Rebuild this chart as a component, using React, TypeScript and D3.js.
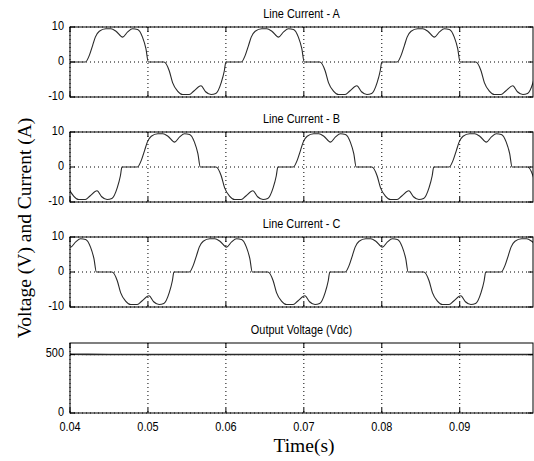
import React, { useEffect, useRef } from 'react'
import * as d3 from 'd3'

// one period (20 ms) of the phase-A line current
const cycleMs = [
  0, 1.97, 2.48, 2.9, 3.25, 3.76, 4.6, 5.26, 5.9, 6.75, 7.4, 8.03, 8.67, 9.3, 9.74, 10.05,
  12.05, 12.73, 13.16, 13.8, 14.45, 15.3, 15.9, 16.8, 17.4, 18.1, 18.7, 19.4, 19.8, 20.0,
]
const cycleAmps = [
  0, 0, 1.9, 4.7, 7.1, 8.8, 9.5, 9.5, 8.8, 7.1, 8.6, 9.5, 9.3, 7.1, 3.8, 0,
  0, -2.5, -5.9, -8.3, -9.3, -9.3, -8.3, -6.8, -8.5, -9.3, -9.0, -5.9, -2.5, 0,
]
const periodMs = 20
// phase lag of each line current (ms)
const phaseShiftMs = [0, 6.667, 13.333]
const panelTitles = ['Line Current - A', 'Line Current - B', 'Line Current - C', 'Output Voltage (Vdc)']

const vdcTime = [0.04, 0.0402, 0.045, 0.05, 0.06, 0.07, 0.08, 0.09, 0.0994]
const vdcVolts = [508, 503, 502, 502, 502, 502, 502, 502, 502]

const timeTicks = [0.04, 0.05, 0.06, 0.07, 0.08, 0.09]
const timeLabels = ['0.04', '0.05', '0.06', '0.07', '0.08', '0.09']
const currentTicks = [-10, 0, 10]
const vdcTicks = [0, 500]

const W = 534
const H = 461
const left = 70
const right = 533
const panelTop = [27, 132, 237, 343]
const panelH = 70
const smallFont = "'Liberation Sans', Arial, sans-serif"
const smallSize = 13
const narrow = 0.84

export default function App() {
  const svgRef = useRef<SVGSVGElement>(null)

  useEffect(() => {
    if (!svgRef.current) return
    const svg = d3.select(svgRef.current)
    svg.selectAll('*').remove()

    const x = d3.scaleLinear().domain([0.04, 0.0994]).range([left, right])

    // narrow sans text, like the MATLAB screen font
    const label = (
      g: d3.Selection<SVGGElement, unknown, null, undefined>,
      tx: number,
      ty: number,
      anchor: string,
      txt: string,
      baseline = 'auto'
    ) =>
      g
        .append('text')
        .attr('transform', `translate(${tx},${ty}) scale(${narrow},1)`)
        .attr('text-anchor', anchor)
        .attr('dominant-baseline', baseline)
        .attr('font-family', smallFont)
        .attr('font-size', smallSize)
        .attr('fill', '#000')
        .text(txt)

    const buildPhase = (shift: number) => {
      const pts: [number, number][] = []
      for (let k = -1; k <= 3; k++) {
        cycleMs.forEach((ms, i) => {
          if (k > -1 && i === 0) return
          const t = 0.04 + (shift + k * periodMs + ms) / 1000
          if (t >= 0.035 && t <= 0.105) pts.push([t, cycleAmps[i]])
        })
      }
      return pts
    }

    panelTitles.forEach((title, p) => {
      const top = panelTop[p]
      const bottom = top + panelH
      const isVdc = p === 3
      const y = d3
        .scaleLinear()
        .domain(isVdc ? [0, 600] : [-10, 10])
        .range([bottom, top])
      const yTicks = isVdc ? vdcTicks : currentTicks

      const g = svg.append('g')

      g.append('clipPath')
        .attr('id', `clip-${p}`)
        .append('rect')
        .attr('x', left)
        .attr('y', top)
        .attr('width', right - left)
        .attr('height', panelH)

      // dotted grid
      timeTicks.forEach((t) => {
        g.append('line')
          .attr('x1', x(t))
          .attr('x2', x(t))
          .attr('y1', top)
          .attr('y2', bottom)
          .attr('stroke', '#000')
          .attr('stroke-width', 1)
          .attr('stroke-dasharray', '1,3')
      })
      yTicks.forEach((v) => {
        g.append('line')
          .attr('x1', left)
          .attr('x2', right)
          .attr('y1', y(v))
          .attr('y2', y(v))
          .attr('stroke', '#000')
          .attr('stroke-width', 1)
          .attr('stroke-dasharray', '1,3')
      })

      // signal
      const line = d3
        .line<[number, number]>()
        .x((d) => x(d[0]))
        .y((d) => y(d[1]))
        .curve(d3.curveMonotoneX)
      const data: [number, number][] = isVdc
        ? vdcTime.map((t, i) => [t, vdcVolts[i]])
        : buildPhase(phaseShiftMs[p])
      g.append('path')
        .attr('d', line(data))
        .attr('fill', 'none')
        .attr('stroke', '#2a2a2a')
        .attr('stroke-width', isVdc ? 1.6 : 1.1)
        .attr('clip-path', `url(#clip-${p})`)

      // box
      g.append('rect')
        .attr('x', left)
        .attr('y', top)
        .attr('width', right - left)
        .attr('height', panelH)
        .attr('fill', 'none')
        .attr('stroke', '#000')
        .attr('stroke-width', 1)

      // inward ticks
      timeTicks.forEach((t) => {
        g.append('line').attr('x1', x(t)).attr('x2', x(t)).attr('y1', bottom).attr('y2', bottom - 5).attr('stroke', '#000')
        g.append('line').attr('x1', x(t)).attr('x2', x(t)).attr('y1', top).attr('y2', top + 5).attr('stroke', '#000')
      })
      yTicks.forEach((v) => {
        g.append('line').attr('x1', left).attr('x2', left + 5).attr('y1', y(v)).attr('y2', y(v)).attr('stroke', '#000')
        g.append('line').attr('x1', right).attr('x2', right - 5).attr('y1', y(v)).attr('y2', y(v)).attr('stroke', '#000')
        label(g, left - 6, y(v) - 1.5, 'end', String(v), 'central')
      })

      label(g, (left + right) / 2, top - 9, 'middle', title)

      if (isVdc) {
        timeTicks.forEach((t, i) => {
          label(g, x(t), bottom + 18, 'middle', timeLabels[i])
        })
      }
    })

    svg
      .append('text')
      .attr('transform', 'translate(31,228) rotate(-90)')
      .attr('text-anchor', 'middle')
      .attr('font-family', "'Liberation Serif', 'Times New Roman', serif")
      .attr('font-size', 19.5)
      .attr('fill', '#000')
      .text('Voltage (V) and Current (A)')

    svg
      .append('text')
      .attr('x', 304)
      .attr('y', 452)
      .attr('text-anchor', 'middle')
      .attr('font-family', "'Liberation Serif', 'Times New Roman', serif")
      .attr('font-size', 19.5)
      .attr('fill', '#000')
      .text('Time(s)')
  }, [])

  return (
    <svg
      ref={svgRef}
      width={W}
      height={H}
      style={{ position: 'absolute', left: 0, top: 0, background: '#fff' }}
    />
  )
}
